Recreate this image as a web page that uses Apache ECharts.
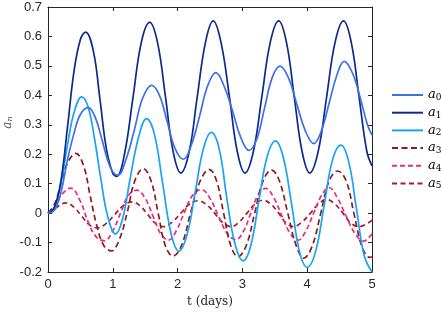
<!DOCTYPE html>
<html><head><meta charset="utf-8">
<script src="https://cdn.jsdelivr.net/npm/echarts@6/dist/echarts.min.js"></script>
<style>html,body{margin:0;padding:0;background:#fff}#c{width:441px;height:313px}</style>
</head><body><div id="c"></div>
<script>
var names = ['a0','a1','a2','a3','a4','a5'];
var subs = ['0','1','2','3','4','5'];
var xTicks = [0,1,2,3,4,5];
var yTicks = [-0.2,-0.1,0,0.1,0.2,0.3,0.4,0.5,0.6,0.7];
var a0 = [[0,0],[0.1,0.01],[0.2,0.07],[0.3,0.18],[0.4,0.27],[0.5,0.335],[0.62,0.358],[0.72,0.33],[0.82,0.26],[0.92,0.18],[1.0,0.14],[1.08,0.129],
[1.2,0.18],[1.33,0.28],[1.46,0.39],[1.6,0.434],[1.72,0.4],[1.84,0.31],[1.96,0.22],[2.09,0.183],
[2.21,0.23],[2.34,0.33],[2.46,0.43],[2.59,0.477],[2.72,0.43],[2.85,0.345],[2.97,0.26],[3.1,0.213],
[3.22,0.25],[3.34,0.355],[3.46,0.46],[3.58,0.499],[3.71,0.46],[3.84,0.37],[3.97,0.28],[4.1,0.236],
[4.22,0.28],[4.34,0.375],[4.46,0.47],[4.57,0.515],[4.7,0.475],[4.82,0.39],[4.93,0.3],[5.0,0.265]];
var a1 = [[0,0],[0.1,0.02],[0.2,0.11],[0.3,0.29],[0.4,0.48],[0.5,0.59],[0.58,0.615],[0.7,0.55],[0.8,0.39],[0.9,0.22],[1.0,0.135],[1.06,0.125],
[1.18,0.2],[1.31,0.39],[1.44,0.58],[1.57,0.648],[1.69,0.58],[1.81,0.4],[1.93,0.21],[2.05,0.136],
[2.18,0.21],[2.3,0.39],[2.43,0.58],[2.55,0.653],[2.67,0.58],[2.8,0.395],[2.92,0.21],[3.04,0.136],
[3.17,0.21],[3.3,0.395],[3.43,0.58],[3.56,0.653],[3.68,0.58],[3.8,0.395],[3.92,0.21],[4.04,0.136],
[4.17,0.21],[4.3,0.395],[4.43,0.58],[4.56,0.653],[4.68,0.58],[4.8,0.395],[4.92,0.21],[5.0,0.16]];
var a2 = [[0,0],[0.1,0.02],[0.2,0.1],[0.3,0.23],[0.4,0.34],[0.52,0.395],[0.62,0.36],[0.72,0.25],[0.82,0.11],[0.92,-0.01],[1.04,-0.071],
[1.15,-0.02],[1.27,0.12],[1.4,0.26],[1.52,0.321],[1.64,0.27],[1.77,0.1],[1.9,-0.07],[2.02,-0.129],
[2.15,-0.07],[2.27,0.07],[2.4,0.22],[2.52,0.274],[2.64,0.22],[2.76,0.05],[2.88,-0.1],[3.01,-0.162],
[3.13,-0.11],[3.26,0.05],[3.38,0.19],[3.51,0.245],[3.63,0.19],[3.76,0.03],[3.88,-0.13],[4.0,-0.184],
[4.13,-0.13],[4.26,0.025],[4.39,0.18],[4.52,0.231],[4.64,0.175],[4.76,0.015],[4.88,-0.145],[5.0,-0.2]];
var a3 = [[0,0],[0.1,0.03],[0.2,0.1],[0.3,0.17],[0.43,0.203],[0.55,0.16],[0.65,0.06],[0.75,-0.04],[0.86,-0.11],[0.98,-0.128],
[1.1,-0.09],[1.22,0.0],[1.34,0.11],[1.47,0.151],[1.59,0.11],[1.7,0.0],[1.81,-0.11],[1.93,-0.146],
[2.06,-0.11],[2.2,0.0],[2.35,0.11],[2.49,0.148],[2.6,0.11],[2.71,0.0],[2.82,-0.11],[2.93,-0.148],
[3.06,-0.11],[3.19,0.0],[3.32,0.11],[3.45,0.146],[3.57,0.11],[3.7,0.0],[3.83,-0.11],[3.95,-0.153],
[4.08,-0.11],[4.21,0.0],[4.34,0.11],[4.47,0.143],[4.6,0.11],[4.72,0.0],[4.84,-0.11],[4.96,-0.15],[5.0,-0.148]];
var a4 = [[0,0],[0.1,0.02],[0.2,0.06],[0.35,0.085],[0.5,0.04],[0.62,-0.03],[0.74,-0.08],[0.87,-0.094],
[1.0,-0.06],[1.12,0.0],[1.24,0.06],[1.37,0.078],[1.5,0.05],[1.62,-0.01],[1.74,-0.07],[1.86,-0.092],
[1.98,-0.06],[2.1,0.0],[2.23,0.06],[2.37,0.08],[2.5,0.05],[2.63,-0.01],[2.77,-0.07],[2.9,-0.09],
[3.02,-0.06],[3.13,0.0],[3.24,0.06],[3.36,0.084],[3.49,0.05],[3.61,-0.01],[3.74,-0.07],[3.86,-0.092],
[3.98,-0.06],[4.1,0.0],[4.22,0.06],[4.34,0.087],[4.47,0.05],[4.6,-0.01],[4.74,-0.07],[4.87,-0.095],[5.0,-0.07]];
var a5 = [[0,0],[0.1,0.015],[0.28,0.035],[0.4,0.02],[0.52,-0.01],[0.64,-0.04],[0.76,-0.05],
[0.9,-0.035],[1.03,-0.005],[1.16,0.025],[1.3,0.038],[1.42,0.025],[1.54,-0.005],[1.66,-0.035],[1.79,-0.046],
[1.92,-0.03],[2.05,0.0],[2.18,0.03],[2.32,0.042],[2.45,0.028],[2.57,0.0],[2.7,-0.033],[2.83,-0.046],
[2.95,-0.03],[3.07,0.0],[3.19,0.03],[3.32,0.044],[3.44,0.03],[3.56,0.0],[3.67,-0.033],[3.79,-0.046],
[3.92,-0.03],[4.05,0.0],[4.17,0.03],[4.3,0.046],[4.43,0.03],[4.55,0.0],[4.67,-0.033],[4.8,-0.046],[5.0,-0.024]];

var dataList = [a0,a1,a2,a3,a4,a5];
var colors = ['#3f6fe6','#0c2a8e','#18a4f5','#8a1a22','#ee2a7b','#a11e28'];
var dashes = ['solid','solid','solid',[6,3.5],[5,3],[5,3.5]];
var chart = echarts.init(document.getElementById('c'), null, {renderer:'canvas'});
var axisCol = '#262626';
var series = dataList.map(function(d,i){
  return {name:names[i], type:'line', data:d, showSymbol:false, symbol:'none', smooth:0.4,
    lineStyle:{color:colors[i], width:1.7, type:dashes[i]}, itemStyle:{color:colors[i]}, z: 10-i};
});
var lbl = {fontFamily:'Liberation Sans, Arial, sans-serif', fontSize:13, color:axisCol};
var aLine = {onZero:false, lineStyle:{color:axisCol, width:1}};
var aTick = {inside:true, length:4, lineStyle:{color:axisCol}};
chart.setOption({
  animation:false,
  grid:{left:48, right:69, top:7, bottom:41, containLabel:false, outerBoundsMode:'none'},
  legend:{orient:'vertical', left:391, top:88, padding:0, itemWidth:31, itemHeight:14, itemGap:3.7,
    data:names, itemStyle:{opacity:0},
    formatter:function(n){return 'a{s|'+subs[names.indexOf(n)]+'}';},
    textStyle:{fontFamily:'DejaVu Serif', fontStyle:'italic', fontSize:13, lineHeight:14, color:'#000',
      rich:{s:{fontFamily:'DejaVu Serif', fontStyle:'normal', fontSize:9, lineHeight:14, verticalAlign:'bottom', color:'#000', padding:[4,0,0,0]}}}},
  xAxis:[{type:'value', min:0, max:5, interval:1, position:'bottom',
    name:'t (days)', nameLocation:'middle', nameGap:24, nameMoveOverlap:false,
    nameTextStyle:{fontFamily:'DejaVu Serif', fontSize:12, color:axisCol},
    axisLine:aLine, axisTick:aTick,
    axisLabel:Object.assign({margin:6, formatter:function(v){return xTicks.indexOf(v)>=0?String(v):'';}}, lbl), splitLine:{show:false}},
   {type:'value', min:0, max:5, interval:1, position:'top',
    axisLine:aLine, axisTick:aTick, axisLabel:{show:false}, splitLine:{show:false}}],
  yAxis:[{type:'value', min:-0.2, max:0.7, interval:0.1, position:'left',
    name:'{a|a}{n|n}', nameLocation:'middle', nameGap:34, nameRotate:90, nameMoveOverlap:false,
    nameTextStyle:{color:'#555', padding:[0,0,0,34], rich:{a:{fontFamily:'DejaVu Serif', fontStyle:'italic', fontSize:12, color:'#555'}, n:{fontFamily:'DejaVu Serif', fontStyle:'italic', fontSize:8, color:'#555', verticalAlign:'bottom', padding:[5,0,0,0]}}},
    axisLine:aLine, axisTick:aTick,
    axisLabel:Object.assign({margin:6, formatter:function(v){var r=Math.round(v*10)/10; return r===0?'0':String(r);}}, lbl), splitLine:{show:false}},
   {type:'value', min:-0.2, max:0.7, interval:0.1, position:'right',
    axisLine:aLine, axisTick:aTick, axisLabel:{show:false}, splitLine:{show:false}}],
  series:series
});
</script></body></html>
